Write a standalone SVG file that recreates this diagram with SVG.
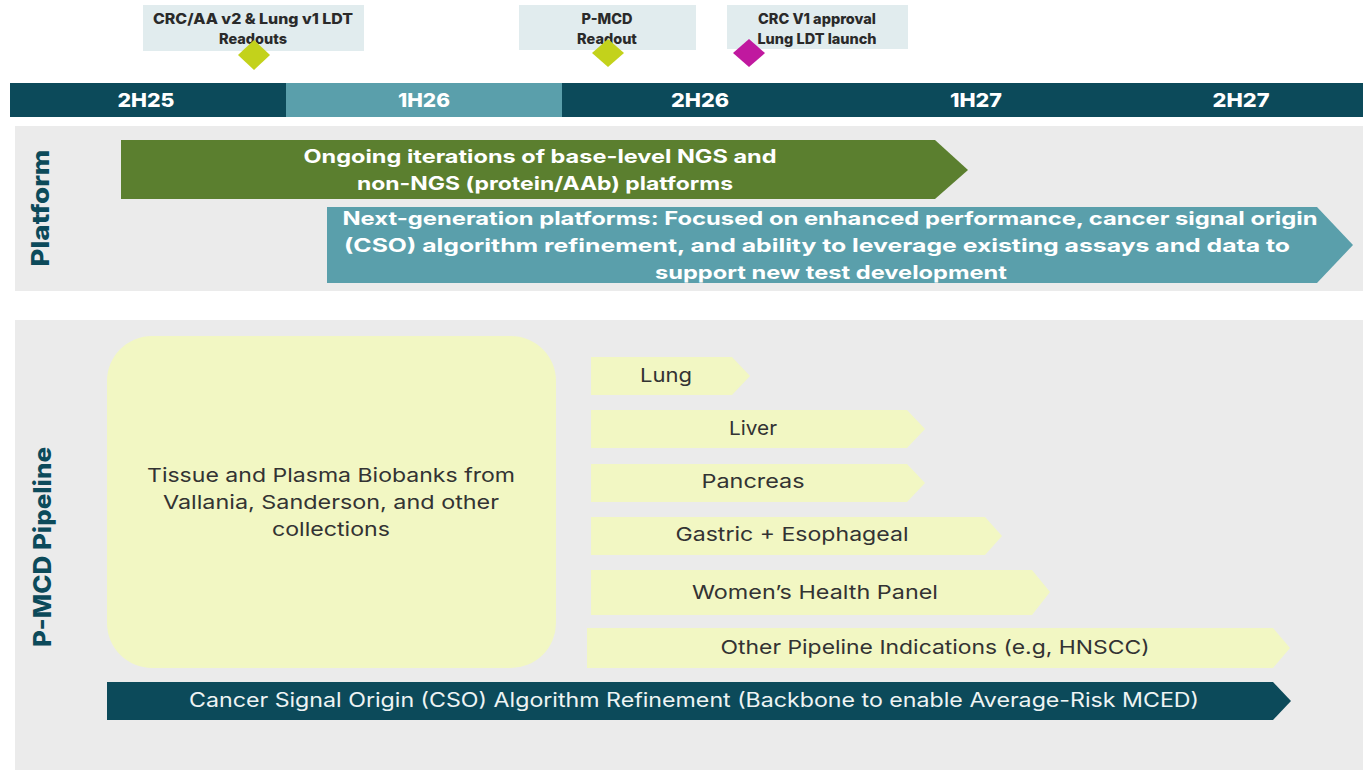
<svg xmlns="http://www.w3.org/2000/svg" width="1363" height="779" viewBox="0 0 1363 779">
<style>
.bg{fill:#ebebeb}
.dark{fill:#0c4a5a}
.lite{fill:#5a9fab}
.tl{font-family:Inter,"Liberation Sans",sans-serif;font-weight:800;font-size:19px;fill:#ffffff;text-anchor:middle}
.ms{fill:#e1ecee}
.mst{font-family:Inter,"Liberation Sans",sans-serif;font-weight:800;font-size:14.5px;fill:#2a2a2a;text-anchor:middle}
.lime{fill:#c3d21b}
.mag{fill:#c0199f}
.vl{font-family:Inter,"Liberation Sans",sans-serif;font-weight:800;font-size:24px;fill:#0c4a5a;text-anchor:middle}
.wb{font-family:Inter,"Liberation Sans",sans-serif;font-weight:700;font-size:18.5px;fill:#ffffff;text-anchor:middle}
.pale{fill:#f2f7c3}
.pt{font-family:Inter,"Liberation Sans",sans-serif;font-weight:400;font-size:19px;fill:#333333;text-anchor:middle}
.ct{font-family:Inter,"Liberation Sans",sans-serif;font-weight:400;font-size:19.5px;fill:#eef4f4;text-anchor:middle}
</style>
<rect x="0" y="0" width="1363" height="779" fill="#ffffff"/>

<g id="timeline">
  <rect class="dark" x="10" y="83" width="276" height="34"/>
  <rect class="lite" x="286" y="83" width="276" height="34"/>
  <rect class="dark" x="562" y="83" width="801" height="34"/>
  <text class="tl" x="146" y="107" textLength="57" lengthAdjust="spacingAndGlyphs">2H25</text>
  <text class="tl" x="424" y="107" textLength="52" lengthAdjust="spacingAndGlyphs">1H26</text>
  <text class="tl" x="700" y="107" textLength="58" lengthAdjust="spacingAndGlyphs">2H26</text>
  <text class="tl" x="976" y="107" textLength="52" lengthAdjust="spacingAndGlyphs">1H27</text>
  <text class="tl" x="1241" y="107" textLength="57" lengthAdjust="spacingAndGlyphs">2H27</text>
</g>

<g id="milestone-1">
  <rect class="ms" x="143" y="5" width="221" height="46"/>
  <text class="mst" x="253" y="24" textLength="200" lengthAdjust="spacingAndGlyphs">CRC/AA v2 &amp; Lung v1 LDT</text>
  <text class="mst" x="253" y="44">Readouts</text>
  <polygon class="lime" points="254,40 270,55 254,70 238,55"/>
</g>
<g id="milestone-2">
  <rect class="ms" x="519" y="5" width="177" height="45"/>
  <text class="mst" x="607" y="24">P-MCD</text>
  <text class="mst" x="607" y="44">Readout</text>
  <polygon class="lime" points="608,39 624,53 608,67 592,53"/>
</g>
<g id="milestone-3">
  <rect class="ms" x="727" y="5" width="181" height="44"/>
  <text class="mst" x="817" y="24">CRC V1 approval</text>
  <text class="mst" x="817" y="44">Lung LDT launch</text>
  <polygon class="mag" points="749,39 765,53 749,67 733,53"/>
</g>

<g id="platform-section">
  <rect class="bg" x="15" y="126" width="1348" height="165"/>
  <text class="vl" transform="translate(49,208) rotate(-90)" textLength="117" lengthAdjust="spacingAndGlyphs">Platform</text>
</g>
<g id="platform-ongoing">
  <polygon fill="#5b7f2f" points="121,140 935,140 968,170 935,199 121,199"/>
  <text class="wb" x="540" y="163" textLength="473" lengthAdjust="spacingAndGlyphs">Ongoing iterations of base-level NGS and</text>
  <text class="wb" x="545" y="190" textLength="376" lengthAdjust="spacingAndGlyphs">non-NGS (protein/AAb) platforms</text>
</g>
<g id="platform-nextgen">
  <polygon class="lite" points="327,207 1317,207 1353,245 1317,283 327,283"/>
  <text class="wb" x="830" y="225" textLength="975" lengthAdjust="spacingAndGlyphs">Next-generation platforms:  Focused on enhanced performance, cancer signal origin</text>
  <text class="wb" x="817" y="252" textLength="946" lengthAdjust="spacingAndGlyphs">(CSO) algorithm refinement, and ability to leverage existing assays and data to</text>
  <text class="wb" x="831" y="279" textLength="352" lengthAdjust="spacingAndGlyphs">support new test development</text>
</g>

<g id="pipeline-section">
  <rect class="bg" x="15" y="320" width="1348" height="450"/>
  <text class="vl" transform="translate(51,547) rotate(-90)" textLength="200" lengthAdjust="spacingAndGlyphs">P-MCD Pipeline</text>
</g>
<g id="biobanks">
  <rect class="pale" x="107" y="336" width="449" height="332" rx="45" ry="45"/>
  <text class="pt" x="331" y="482" textLength="368" lengthAdjust="spacingAndGlyphs">Tissue and Plasma Biobanks from</text>
  <text class="pt" x="331" y="509" textLength="336" lengthAdjust="spacingAndGlyphs">Vallania, Sanderson, and other</text>
  <text class="pt" x="331" y="536" textLength="118" lengthAdjust="spacingAndGlyphs">collections</text>
</g>
<g id="lung">
  <polygon class="pale" points="591,357 732,357 750,376 732,395 591,395"/>
  <text class="pt" x="666" y="382" textLength="52" lengthAdjust="spacingAndGlyphs">Lung</text>
</g>
<g id="liver">
  <polygon class="pale" points="591,410 907,410 925,429 907,448 591,448"/>
  <text class="pt" x="753" y="435" textLength="48" lengthAdjust="spacingAndGlyphs">Liver</text>
</g>
<g id="pancreas">
  <polygon class="pale" points="591,464 907,464 925,483 907,502 591,502"/>
  <text class="pt" x="753" y="488" textLength="103" lengthAdjust="spacingAndGlyphs">Pancreas</text>
</g>
<g id="gastric">
  <polygon class="pale" points="591,517 985,517 1002,536 985,555 591,555"/>
  <text class="pt" x="792" y="541" textLength="233" lengthAdjust="spacingAndGlyphs">Gastric + Esophageal</text>
</g>
<g id="womens">
  <polygon class="pale" points="591,570 1032,570 1050,592 1032,615 591,615"/>
  <text class="pt" x="815" y="599" textLength="246" lengthAdjust="spacingAndGlyphs">Women’s Health Panel</text>
</g>
<g id="other">
  <polygon class="pale" points="587,628 1273,628 1290,648 1273,668 587,668"/>
  <text class="pt" x="935" y="654" textLength="429" lengthAdjust="spacingAndGlyphs">Other Pipeline Indications (e.g, HNSCC)</text>
</g>
<g id="cso-backbone">
  <polygon class="dark" points="107,682 1273,682 1291,701 1273,720 107,720"/>
  <text class="ct" x="694" y="707" textLength="1010" lengthAdjust="spacingAndGlyphs">Cancer Signal Origin (CSO) Algorithm Refinement (Backbone to enable Average-Risk MCED)</text>
</g>
<g id="connectors"></g>
</svg>
